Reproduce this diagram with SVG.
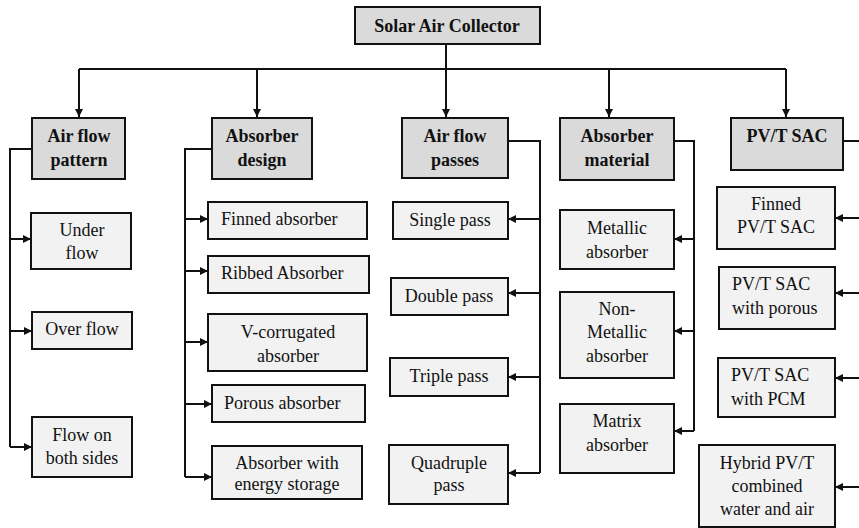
<svg xmlns="http://www.w3.org/2000/svg" width="859" height="528" viewBox="0 0 859 528">
<defs>
<style>
.l2{fill:#dadada;stroke:#111;stroke-width:2}
.ch{fill:#f2f2f2;stroke:#111;stroke-width:2}
text{font-family:'Liberation Serif','DejaVu Serif','Times New Roman',Times,serif;font-size:18px;fill:#111;text-anchor:middle}
.t2{font-weight:bold}
.ts{text-anchor:start}
.cn{fill:none;stroke:#111;stroke-width:2}
</style>
<marker id="ah" viewBox="0 0 10 10" refX="10" refY="5" markerWidth="9" markerHeight="8" markerUnits="userSpaceOnUse" orient="auto"><path d="M0,0L10,5L0,10z" fill="#111"/></marker>
</defs>
<rect width="859" height="528" fill="#fff"/>
<g id="connectors">
<path class="cn" d="M446,44V117" marker-end="url(#ah)"/>
<path class="cn" d="M79,69H786"/>
<path class="cn" d="M79,69V117" marker-end="url(#ah)"/>
<path class="cn" d="M257,69V117" marker-end="url(#ah)"/>
<path class="cn" d="M609,69V117" marker-end="url(#ah)"/>
<path class="cn" d="M786,69V117" marker-end="url(#ah)"/>
<path class="cn" d="M32,149H10V447"/>
<path class="cn" d="M10,239H31" marker-end="url(#ah)"/>
<path class="cn" d="M10,331H32" marker-end="url(#ah)"/>
<path class="cn" d="M10,447H32" marker-end="url(#ah)"/>
<path class="cn" d="M212,149H185V477"/>
<path class="cn" d="M185,219H208" marker-end="url(#ah)"/>
<path class="cn" d="M185,271H208" marker-end="url(#ah)"/>
<path class="cn" d="M185,342H208" marker-end="url(#ah)"/>
<path class="cn" d="M185,404H212" marker-end="url(#ah)"/>
<path class="cn" d="M185,477H212" marker-end="url(#ah)"/>
<path class="cn" d="M508,141H540V473"/>
<path class="cn" d="M540,219H508" marker-end="url(#ah)"/>
<path class="cn" d="M540,293H508" marker-end="url(#ah)"/>
<path class="cn" d="M540,377H508" marker-end="url(#ah)"/>
<path class="cn" d="M540,473H508" marker-end="url(#ah)"/>
<path class="cn" d="M674,141H694V431"/>
<path class="cn" d="M694,239H674" marker-end="url(#ah)"/>
<path class="cn" d="M694,331H674" marker-end="url(#ah)"/>
<path class="cn" d="M694,431H674" marker-end="url(#ah)"/>
<path class="cn" d="M843,141H875V487"/>
<path class="cn" d="M875,218H835" marker-end="url(#ah)"/>
<path class="cn" d="M875,293H835" marker-end="url(#ah)"/>
<path class="cn" d="M875,378H835" marker-end="url(#ah)"/>
<path class="cn" d="M875,487H835" marker-end="url(#ah)"/>
</g>
<g id="root"><rect class="l2" x="355" y="7" width="185" height="37"/><text class="t2" x="447" y="32">Solar Air Collector</text></g>
<g id="air-flow-pattern"><rect class="l2" x="32" y="118" width="93" height="61"/><text class="t2" x="79" y="142">Air flow</text><text class="t2" x="79" y="166">pattern</text></g>
<g id="absorber-design"><rect class="l2" x="212" y="118" width="100" height="61"/><text class="t2" x="262" y="142">Absorber</text><text class="t2" x="262" y="166">design</text></g>
<g id="air-flow-passes"><rect class="l2" x="402" y="118" width="106" height="60"/><text class="t2" x="455" y="142">Air flow</text><text class="t2" x="455" y="166">passes</text></g>
<g id="absorber-material"><rect class="l2" x="560" y="118" width="114" height="62"/><text class="t2" x="617" y="142">Absorber</text><text class="t2" x="617" y="166">material</text></g>
<g id="pvt-sac"><rect class="l2" x="731" y="118" width="112" height="52"/><text class="t2" x="787" y="142">PV/T SAC</text></g>
<g id="under-flow"><rect class="ch" x="31" y="213" width="100" height="56"/><text x="82" y="236">Under</text><text x="82" y="259">flow</text></g>
<g id="over-flow"><rect class="ch" x="32" y="312" width="100" height="37"/><text x="82" y="335">Over flow</text></g>
<g id="flow-both"><rect class="ch" x="32" y="417" width="100" height="60"/><text x="82" y="441">Flow on</text><text x="82" y="464">both sides</text></g>
<g id="finned-absorber"><rect class="ch" x="208" y="202" width="159" height="37"/><text class="ts" x="221" y="225">Finned absorber</text></g>
<g id="ribbed-absorber"><rect class="ch" x="208" y="256" width="161" height="37"/><text class="ts" x="221" y="279">Ribbed Absorber</text></g>
<g id="v-corrugated"><rect class="ch" x="208" y="314" width="159" height="57"/><text x="288" y="338">V-corrugated</text><text x="288" y="362">absorber</text></g>
<g id="porous-absorber"><rect class="ch" x="212" y="385" width="153" height="37"/><text class="ts" x="224" y="409">Porous absorber</text></g>
<g id="energy-storage"><rect class="ch" x="212" y="446" width="150" height="53"/><text x="287" y="469">Absorber with</text><text x="287" y="490">energy storage</text></g>
<g id="single-pass"><rect class="ch" x="393" y="202" width="115" height="37"/><text x="450" y="226">Single pass</text></g>
<g id="double-pass"><rect class="ch" x="391" y="278" width="117" height="37"/><text x="449" y="302">Double pass</text></g>
<g id="triple-pass"><rect class="ch" x="390" y="358" width="118" height="38"/><text x="449" y="382">Triple pass</text></g>
<g id="quadruple-pass"><rect class="ch" x="389" y="445" width="119" height="59"/><text x="449" y="469">Quadruple</text><text x="449" y="491">pass</text></g>
<g id="metallic"><rect class="ch" x="560" y="210" width="114" height="59"/><text x="617" y="234">Metallic</text><text x="617" y="258">absorber</text></g>
<g id="non-metallic"><rect class="ch" x="560" y="292" width="114" height="86"/><text x="617" y="315">Non-</text><text x="617" y="338">Metallic</text><text x="617" y="362">absorber</text></g>
<g id="matrix"><rect class="ch" x="560" y="404" width="114" height="69"/><text x="617" y="427">Matrix</text><text x="617" y="451">absorber</text></g>
<g id="finned-pvt"><rect class="ch" x="717" y="187" width="118" height="62"/><text x="776" y="210">Finned</text><text x="776" y="233">PV/T SAC</text></g>
<g id="pvt-porous"><rect class="ch" x="719" y="267" width="116" height="62"/><text class="ts" x="732" y="290">PV/T SAC</text><text class="ts" x="732" y="314">with porous</text></g>
<g id="pvt-pcm"><rect class="ch" x="718" y="358" width="117" height="59"/><text class="ts" x="731" y="381">PV/T SAC</text><text class="ts" x="731" y="405">with PCM</text></g>
<g id="hybrid"><rect class="ch" x="699" y="445" width="136" height="82"/><text x="767" y="469">Hybrid PV/T</text><text x="767" y="492">combined</text><text x="767" y="515">water and air</text></g>
</svg>
